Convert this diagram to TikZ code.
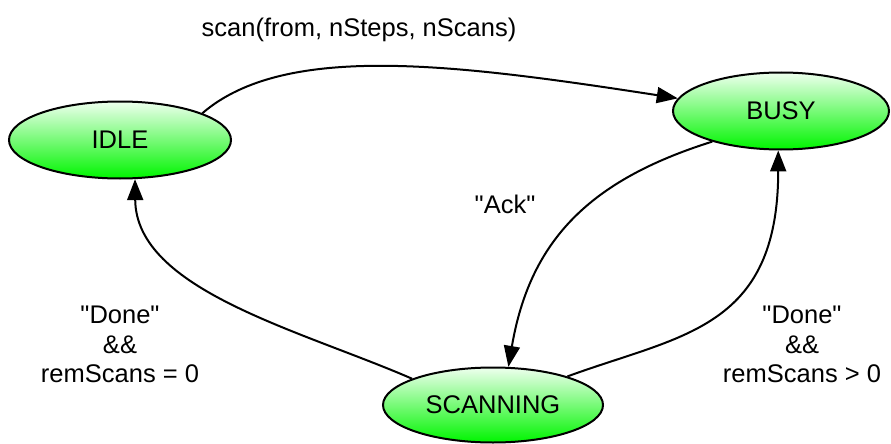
\documentclass[tikz,border=0pt]{standalone}
\usepackage{fontspec}
\setmainfont{Liberation Sans}
\usepackage{tikz}
\usetikzlibrary{arrows.meta,shapes.geometric}
\definecolor{stateTop}{RGB}{238,255,238}
\definecolor{stateBottom}{RGB}{0,245,0}
\newcommand{\qt}[1]{\textquotedbl#1\textquotedbl}

\begin{document}
\begin{tikzpicture}[x=1pt,y=-1pt,>={Triangle[length=21pt,width=16pt]},
font=\fontsize{25.5}{29.5}\selectfont,
state/.style={ellipse,draw,line width=2pt,inner sep=0pt,minimum height=77pt,top color=stateTop,bottom color=stateBottom},
trans/.style={->,line width=2pt},
lbl/.style={inner sep=0pt,align=center}]
\useasboundingbox(0,0)rectangle(891,444);
\node[state,minimum width=222pt](idle)at(120,140){IDLE};
\node[state,minimum width=216pt](busy)at(781,111){BUSY};
\node[state,minimum width=220pt,minimum height=75pt](scanning)at(493,405){SCANNING};
\draw[trans](idle.18)..controls(285,42)and(455,64)..(busy.173);
\draw[trans](busy.204)..controls(590,180)and(530,240)..(scanning.68);
\draw[trans](scanning.21)..controls(680,335)and(778,330)..(busy.266);
\draw[trans](scanning.162)..controls(300,330)and(136,290)..(idle.291);
\node[lbl,anchor=base](scanLbl)at(359,37){scan(from, nSteps, nScans)};
\node[lbl,anchor=base](ackLbl)at(505,213){\qt{Ack}};
\node[lbl,anchor=north](doneZeroLbl)at(120,306){\qt{Done}\\\&\&\\remScans = 0};
\node[lbl,anchor=north](doneMoreLbl)at(802,306){\qt{Done}\\\&\&\\remScans > 0};
\end{tikzpicture}
\end{document}
